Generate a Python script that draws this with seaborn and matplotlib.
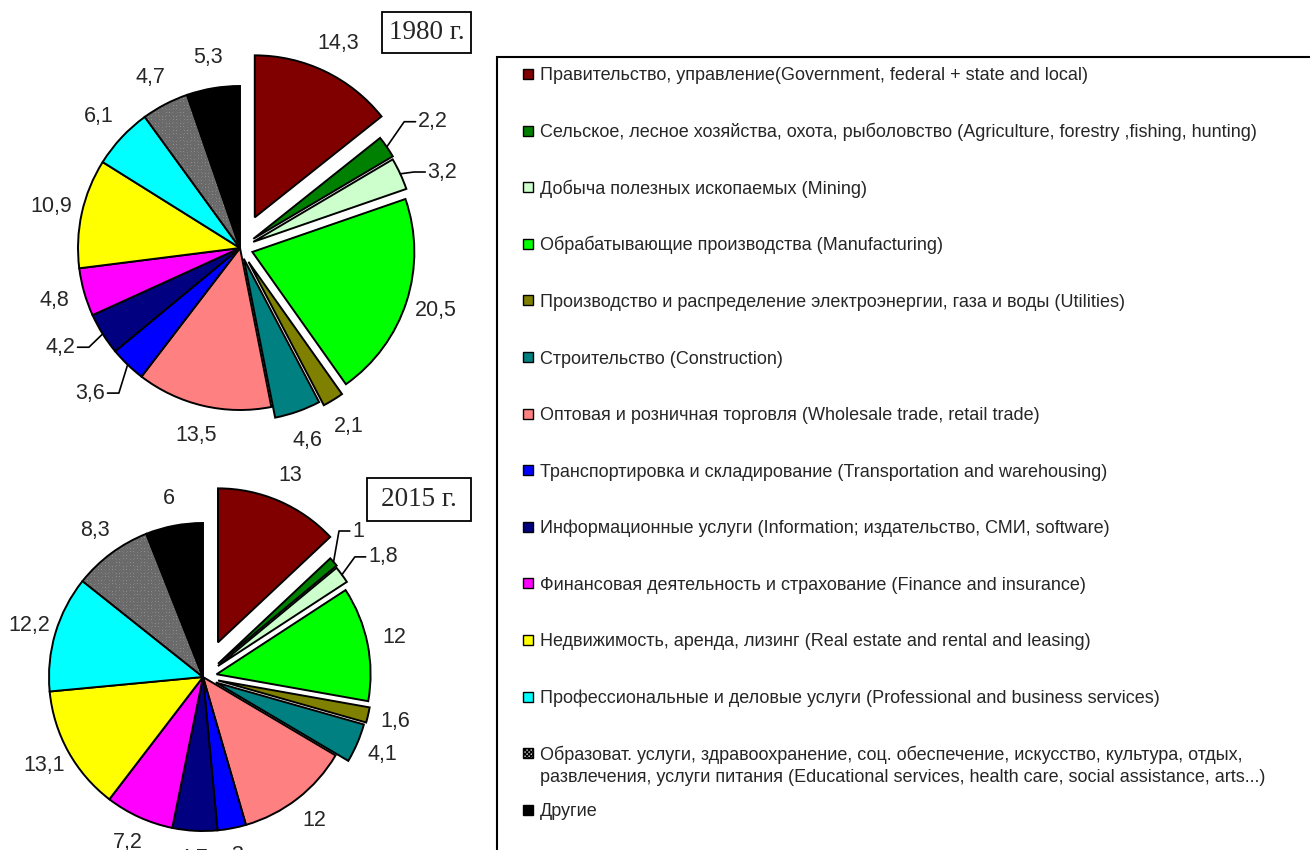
import numpy as np
import matplotlib
matplotlib.use("Agg")
import matplotlib.pyplot as plt
import matplotlib.patches as mpatches
import seaborn as sns

# ---------------- data ----------------
categories = [
    "Правительство, управление(Government, federal + state and local)",
    "Сельское, лесное хозяйства, охота, рыболовство (Agriculture, forestry ,fishing, hunting)",
    "Добыча полезных ископаемых (Mining)",
    "Обрабатывающие производства (Manufacturing)",
    "Производство и распределение электроэнергии, газа и воды (Utilities)",
    "Строительство (Construction)",
    "Оптовая и розничная торговля (Wholesale trade, retail trade)",
    "Транспортировка и складирование (Transportation and warehousing)",
    "Информационные услуги (Information; издательство, СМИ, software)",
    "Финансовая деятельность и страхование (Finance and insurance)",
    "Недвижимость, аренда, лизинг (Real estate and rental and leasing)",
    "Профессиональные и деловые услуги (Professional and business services)",
    "Образоват. услуги, здравоохранение, соц. обеспечение, искусство, культура, отдых,\n"
    "развлечения, услуги питания (Educational services, health care, social assistance, arts...)",
    "Другие",
]
values_1980 = [14.3, 2.2, 3.2, 20.5, 2.1, 4.6, 13.5, 3.6, 4.2, 4.8, 10.9, 6.1, 4.7, 5.3]
values_2015 = [13, 1, 1.8, 12, 1.6, 4.1, 12, 3, 4.7, 7.2, 13.1, 12.2, 8.3, 6]
years = ["1980 г.", "2015 г."]

# ---------------- style ----------------
colors = ["#800000", "#008000", "#CCFFCC", "#00FF00", "#808000", "#008080",
          "#FF8080", "#0000FF", "#000080", "#FF00FF", "#FFFF00", "#00FFFF",
          "#FFFFFF", "#000000"]
HATCH_IDX = 12
explode_1980 = [0.21, 0.10, 0.09, 0.08, 0.10, 0.07, 0, 0, 0, 0, 0, 0, 0, 0]
explode_2015 = [0.245, 0.13, 0.12, 0.09, 0.10, 0.09, 0, 0, 0, 0, 0, 0, 0, 0]
# leader-line labels: index -> (angle nudge in deg, radius of text anchor)
leaders_1980 = {1: (0.8, 1.347), 2: (-2.8, 1.25), 7: (1.0, 1.223), 8: (-1.0, 1.188)}
leaders_2015 = {1: (3.0, 1.355), 2: (-0.3, 1.325)}

sns.set_theme(style="white")
plt.rcParams["font.family"] = ["Liberation Sans", "DejaVu Sans"]
plt.rcParams["hatch.linewidth"] = 1.0

W, H = 1310, 850
fig = plt.figure(figsize=(W / 100, H / 100), dpi=100)
fig.patch.set_facecolor("white")

LW = 1.4
HALF = 1.3
LABEL_FS = 15.5


def pixel_axes(cx, cy, R):
    s = HALF * R
    return fig.add_axes([(cx - s) / W, (H - cy - s) / H, 2 * s / W, 2 * s / H])


def fmt(v):
    return f"{v:g}".replace(".", ",")


def draw_pie(ax, values, explode, leaders, d):
    wedges, _ = ax.pie(values, explode=explode, startangle=90, counterclock=False,
                       colors=colors, radius=1,
                       wedgeprops=dict(edgecolor="black", linewidth=LW))
    w = wedges[HATCH_IDX]
    w.set_facecolor("white")
    w.set_edgecolor("#6a6a6a")
    w.set_linewidth(0)
    w.set_hatch("x" * 12)
    ax.add_patch(mpatches.Wedge(w.center, w.r, w.theta1, w.theta2, fill=False,
                                edgecolor="black", linewidth=LW))
    for i, (wd, v) in enumerate(zip(wedges, values)):
        mid = (wd.theta1 + wd.theta2) / 2
        cx, cy = wd.center
        txt = fmt(v)
        if i in leaders:
            nudge, rt = leaders[i]
            a = np.deg2rad(mid + nudge)
            tx, ty = rt * np.cos(a), rt * np.sin(a)
            side = 1 if np.cos(a) > 0 else -1
            ex = cx + np.cos(np.deg2rad(mid))
            ey = cy + np.sin(np.deg2rad(mid))
            h0 = tx - side * 0.015
            h1 = h0 - side * 0.07
            ax.plot([ex, h1, h0], [ey, ty, ty], color="black", lw=1.2)
            ax.text(tx, ty, txt, ha="left" if side > 0 else "right", va="center",
                    fontsize=LABEL_FS)
        else:
            a = np.deg2rad(mid)
            ax.text(cx + d * np.cos(a), cy + d * np.sin(a), txt, ha="center",
                    va="center", fontsize=LABEL_FS)
    ax.set_xlim(-HALF, HALF)
    ax.set_ylim(-HALF, HALF)
    ax.set_aspect("equal")
    ax.axis("off")
    return wedges


ax1 = pixel_axes(240, 248, 162)
draw_pie(ax1, values_1980, explode_1980, leaders_1980, 1.19)
ax2 = pixel_axes(203, 677, 154)
draw_pie(ax2, values_2015, explode_2015, leaders_2015, 1.18)

# year boxes
for (x0, y0, x1, y1), yr in zip([(382, 12, 471, 53), (367, 478, 471, 521)], years):
    fig.patches.append(mpatches.Rectangle((x0 / W, 1 - y1 / H), (x1 - x0) / W,
                                          (y1 - y0) / H, transform=fig.transFigure,
                                          facecolor="white", edgecolor="black",
                                          linewidth=1.3, zorder=5))
    fig.text((x0 + x1) / 2 / W, 1 - (y0 + y1) / 2 / H, yr, ha="center", va="center",
             fontsize=19.5, family=["Liberation Serif", "DejaVu Serif"], zorder=6)

# legend box
fig.patches.append(mpatches.Rectangle((497 / W, -0.05), 1.0, (850 - 57) / H + 0.05,
                                      transform=fig.transFigure, facecolor="white",
                                      edgecolor="black", linewidth=1.5, zorder=1))
step = 56.6
for i, cat in enumerate(categories):
    yc = 74 + i * step
    hatch = "x" * 8 if i == HATCH_IDX else None
    fc = "#d0d0d0" if i == HATCH_IDX else colors[i]
    fig.patches.append(mpatches.Rectangle((523 / W, 1 - (yc + 5) / H), 10 / W, 10 / H,
                                          transform=fig.transFigure, facecolor=fc,
                                          edgecolor="black", linewidth=1.0,
                                          hatch=hatch, zorder=3))
    for k, line in enumerate(cat.split("\n")):
        fig.text(540 / W, 1 - (yc + 6.5 + 22 * k) / H, line, ha="left",
                 va="baseline", fontsize=13, zorder=3)

fig.savefig("out.png", dpi=100, facecolor="white")
